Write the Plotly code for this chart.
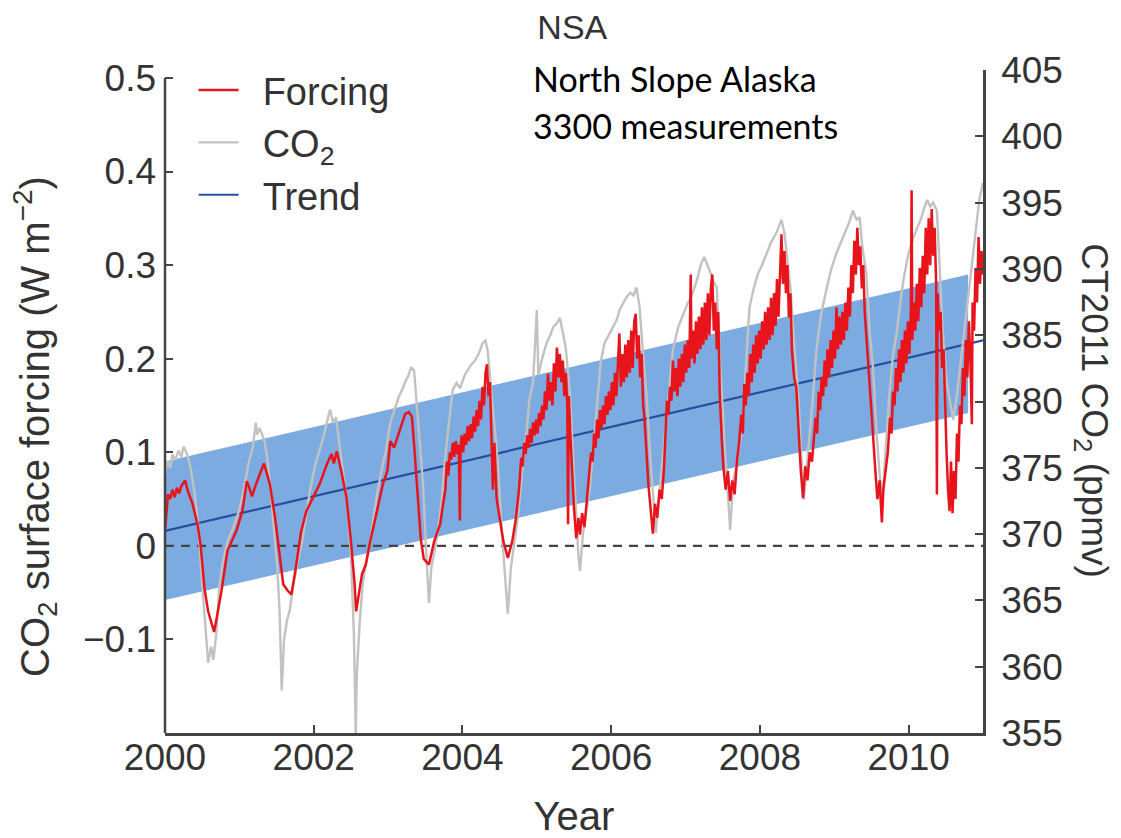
import plotly.graph_objects as go

# ---------------- data ----------------
X_RANGE = [2000, 2011]
LEFT_RANGE = [-0.2, 0.5085]
RIGHT_RANGE = [355, 405]
X_TICKS = [2000, 2002, 2004, 2006, 2008, 2010]
LEFT_TICKS = [-0.1, 0, 0.1, 0.2, 0.3, 0.4, 0.5]
LEFT_TICK_TEXT = ["\u22120.1", "0", "0.1", "0.2", "0.3", "0.4", "0.5"]
RIGHT_TICKS = [355, 360, 365, 370, 375, 380, 385, 390, 395, 400, 405]

TREND_YEAR = [2000, 2011]
TREND_VALUE = [0.016, 0.2196]
BAND_YEAR = [2000, 2010.8]
BAND_LOWER = [-0.058, 0.142]
BAND_UPPER = [0.090, 0.290]
ZERO_LEVEL = 0.0

# CO2 surface forcing (W m-2), (year, value) pairs
FORCING = [
    (2000.00, 0.016), (2000.02, 0.040), (2000.04, 0.055), (2000.07, 0.050), (2000.10, 0.060),
    (2000.13, 0.052), (2000.16, 0.062), (2000.19, 0.056), (2000.22, 0.064), (2000.27, 0.070),
    (2000.31, 0.058), (2000.37, 0.045), (2000.44, 0.022), (2000.48, 0.000), (2000.53, -0.045),
    (2000.58, -0.070), (2000.62, -0.080), (2000.66, -0.092), (2000.70, -0.075), (2000.76, -0.048),
    (2000.84, -0.005), (2000.96, 0.016), (2001.04, 0.037), (2001.10, 0.069), (2001.13, 0.063),
    (2001.17, 0.053), (2001.22, 0.065), (2001.27, 0.075), (2001.33, 0.088), (2001.36, 0.080),
    (2001.41, 0.066), (2001.48, 0.030), (2001.53, 0.000), (2001.59, -0.041), (2001.65, -0.048),
    (2001.70, -0.052), (2001.75, -0.028), (2001.83, 0.015), (2001.90, 0.037), (2001.99, 0.051),
    (2002.08, 0.066), (2002.18, 0.088), (2002.24, 0.098), (2002.27, 0.088), (2002.31, 0.101),
    (2002.37, 0.080), (2002.44, 0.052), (2002.50, 0.005), (2002.55, -0.041), (2002.57, -0.070),
    (2002.61, -0.048), (2002.65, -0.030), (2002.70, -0.020), (2002.76, 0.005), (2002.85, 0.037),
    (2002.93, 0.066), (2002.99, 0.080), (2003.03, 0.112), (2003.08, 0.105), (2003.12, 0.115),
    (2003.17, 0.128), (2003.23, 0.141), (2003.28, 0.143), (2003.32, 0.138), (2003.35, 0.108),
    (2003.39, 0.059), (2003.44, 0.007), (2003.48, -0.014), (2003.55, -0.020), (2003.62, 0.005),
    (2003.70, 0.023), (2003.74, 0.045), (2003.77, 0.060), (2003.79, 0.090), (2003.81, 0.075),
    (2003.83, 0.100), (2003.85, 0.092), (2003.87, 0.110), (2003.89, 0.095), (2003.91, 0.112),
    (2003.93, 0.098), (2003.95, 0.108), (2003.965, 0.027), (2003.975, 0.105), (2003.99, 0.118),
    (2004.01, 0.100), (2004.03, 0.120), (2004.05, 0.108), (2004.07, 0.128), (2004.09, 0.112),
    (2004.11, 0.130), (2004.13, 0.115), (2004.15, 0.138), (2004.17, 0.122), (2004.19, 0.145),
    (2004.21, 0.128), (2004.23, 0.155), (2004.25, 0.135), (2004.27, 0.170), (2004.29, 0.150),
    (2004.31, 0.185), (2004.33, 0.194), (2004.35, 0.160), (2004.37, 0.175), (2004.39, 0.120),
    (2004.41, 0.060), (2004.43, 0.110), (2004.46, 0.050), (2004.50, 0.030), (2004.55, 0.005),
    (2004.61, -0.013), (2004.67, 0.005), (2004.72, 0.030), (2004.76, 0.060), (2004.79, 0.094),
    (2004.81, 0.085), (2004.83, 0.110), (2004.85, 0.098), (2004.87, 0.118), (2004.89, 0.105),
    (2004.91, 0.125), (2004.93, 0.110), (2004.95, 0.132), (2004.97, 0.118), (2004.99, 0.135),
    (2005.01, 0.120), (2005.03, 0.142), (2005.05, 0.128), (2005.07, 0.150), (2005.09, 0.135),
    (2005.11, 0.165), (2005.13, 0.145), (2005.15, 0.184), (2005.17, 0.155), (2005.19, 0.175),
    (2005.21, 0.150), (2005.23, 0.195), (2005.25, 0.165), (2005.27, 0.212), (2005.29, 0.180),
    (2005.31, 0.205), (2005.33, 0.175), (2005.35, 0.198), (2005.37, 0.160), (2005.39, 0.185),
    (2005.41, 0.150), (2005.42, 0.023), (2005.43, 0.160), (2005.45, 0.120), (2005.47, 0.080),
    (2005.50, 0.040), (2005.53, 0.008), (2005.56, 0.030), (2005.58, 0.012), (2005.61, 0.035),
    (2005.64, 0.020), (2005.67, 0.050), (2005.70, 0.070), (2005.73, 0.100), (2005.75, 0.090),
    (2005.77, 0.120), (2005.79, 0.105), (2005.81, 0.135), (2005.83, 0.115), (2005.85, 0.145),
    (2005.87, 0.125), (2005.89, 0.150), (2005.91, 0.130), (2005.93, 0.160), (2005.95, 0.140),
    (2005.97, 0.165), (2005.99, 0.145), (2006.01, 0.175), (2006.03, 0.150), (2006.05, 0.185),
    (2006.07, 0.160), (2006.09, 0.195), (2006.11, 0.227), (2006.13, 0.170), (2006.15, 0.205),
    (2006.17, 0.175), (2006.19, 0.215), (2006.21, 0.180), (2006.23, 0.220), (2006.25, 0.185),
    (2006.27, 0.230), (2006.29, 0.190), (2006.31, 0.240), (2006.33, 0.248), (2006.35, 0.200),
    (2006.37, 0.225), (2006.39, 0.180), (2006.41, 0.205), (2006.43, 0.150), (2006.45, 0.134),
    (2006.48, 0.090), (2006.50, 0.066), (2006.53, 0.040), (2006.56, 0.013), (2006.59, 0.045),
    (2006.62, 0.030), (2006.65, 0.060), (2006.68, 0.050), (2006.71, 0.083), (2006.73, 0.120),
    (2006.75, 0.155), (2006.77, 0.140), (2006.79, 0.170), (2006.81, 0.155), (2006.83, 0.198),
    (2006.85, 0.165), (2006.87, 0.190), (2006.89, 0.160), (2006.91, 0.200), (2006.93, 0.170),
    (2006.95, 0.205), (2006.97, 0.175), (2006.99, 0.215), (2007.01, 0.185), (2007.03, 0.220),
    (2007.05, 0.190), (2007.07, 0.290), (2007.08, 0.200), (2007.10, 0.230), (2007.12, 0.195),
    (2007.14, 0.240), (2007.16, 0.205), (2007.18, 0.245), (2007.20, 0.210), (2007.22, 0.255),
    (2007.24, 0.215), (2007.26, 0.260), (2007.28, 0.220), (2007.30, 0.270), (2007.32, 0.225),
    (2007.34, 0.275), (2007.36, 0.290), (2007.38, 0.230), (2007.40, 0.260), (2007.42, 0.210),
    (2007.44, 0.250), (2007.46, 0.162), (2007.49, 0.110), (2007.51, 0.083), (2007.54, 0.060),
    (2007.57, 0.080), (2007.60, 0.048), (2007.63, 0.070), (2007.66, 0.055), (2007.69, 0.090),
    (2007.72, 0.110), (2007.75, 0.140), (2007.77, 0.120), (2007.79, 0.173), (2007.81, 0.150),
    (2007.83, 0.185), (2007.85, 0.160), (2007.87, 0.205), (2007.89, 0.175), (2007.91, 0.215),
    (2007.93, 0.185), (2007.95, 0.225), (2007.97, 0.195), (2007.99, 0.230), (2008.01, 0.200),
    (2008.03, 0.240), (2008.05, 0.210), (2008.07, 0.250), (2008.09, 0.215), (2008.11, 0.255),
    (2008.13, 0.220), (2008.15, 0.265), (2008.17, 0.225), (2008.19, 0.270), (2008.21, 0.235),
    (2008.23, 0.285), (2008.25, 0.245), (2008.27, 0.300), (2008.29, 0.333), (2008.31, 0.280),
    (2008.33, 0.315), (2008.35, 0.270), (2008.37, 0.300), (2008.39, 0.244), (2008.41, 0.270),
    (2008.43, 0.210), (2008.46, 0.180), (2008.49, 0.169), (2008.52, 0.120), (2008.55, 0.080),
    (2008.58, 0.051), (2008.61, 0.085), (2008.64, 0.070), (2008.67, 0.100), (2008.70, 0.090),
    (2008.73, 0.125), (2008.75, 0.137), (2008.77, 0.120), (2008.79, 0.165), (2008.81, 0.145),
    (2008.83, 0.180), (2008.85, 0.160), (2008.87, 0.198), (2008.89, 0.170), (2008.91, 0.210),
    (2008.93, 0.180), (2008.95, 0.220), (2008.97, 0.190), (2008.99, 0.230), (2009.01, 0.200),
    (2009.03, 0.255), (2009.05, 0.210), (2009.07, 0.245), (2009.09, 0.215), (2009.11, 0.250),
    (2009.13, 0.220), (2009.15, 0.260), (2009.17, 0.230), (2009.19, 0.276), (2009.21, 0.245),
    (2009.23, 0.300), (2009.25, 0.270), (2009.27, 0.326), (2009.29, 0.290), (2009.31, 0.340),
    (2009.33, 0.300), (2009.35, 0.320), (2009.37, 0.275), (2009.39, 0.300), (2009.41, 0.250),
    (2009.43, 0.227), (2009.46, 0.200), (2009.49, 0.155), (2009.52, 0.120), (2009.55, 0.083),
    (2009.58, 0.050), (2009.61, 0.070), (2009.64, 0.025), (2009.66, 0.060), (2009.69, 0.080),
    (2009.72, 0.100), (2009.75, 0.137), (2009.77, 0.120), (2009.79, 0.165), (2009.81, 0.150),
    (2009.83, 0.190), (2009.85, 0.165), (2009.87, 0.210), (2009.89, 0.175), (2009.91, 0.220),
    (2009.93, 0.185), (2009.95, 0.230), (2009.97, 0.195), (2009.99, 0.240), (2010.01, 0.205),
    (2010.03, 0.250), (2010.04, 0.380), (2010.05, 0.220), (2010.07, 0.260), (2010.09, 0.230),
    (2010.11, 0.280), (2010.13, 0.240), (2010.15, 0.297), (2010.17, 0.255), (2010.19, 0.310),
    (2010.21, 0.270), (2010.23, 0.340), (2010.25, 0.290), (2010.27, 0.350), (2010.29, 0.300),
    (2010.31, 0.360), (2010.33, 0.310), (2010.35, 0.340), (2010.37, 0.280), (2010.38, 0.055),
    (2010.39, 0.270), (2010.41, 0.230), (2010.43, 0.250), (2010.45, 0.190), (2010.47, 0.210),
    (2010.49, 0.140), (2010.51, 0.100), (2010.53, 0.060), (2010.55, 0.037), (2010.57, 0.090),
    (2010.59, 0.035), (2010.61, 0.080), (2010.63, 0.050), (2010.65, 0.120), (2010.67, 0.090),
    (2010.69, 0.150), (2010.71, 0.130), (2010.73, 0.190), (2010.75, 0.160), (2010.77, 0.220),
    (2010.79, 0.180), (2010.81, 0.240), (2010.83, 0.200), (2010.85, 0.130), (2010.86, 0.260),
    (2010.88, 0.230), (2010.90, 0.297), (2010.92, 0.260), (2010.94, 0.330), (2010.96, 0.280),
    (2010.98, 0.315), (2011.00, 0.290),
]
FORCING_YEAR = [p[0] for p in FORCING]
FORCING_VALUE = [p[1] for p in FORCING]

# CT2011 CO2 concentration (ppmv)
CO2_YEAR = [
    2000.00, 2000.03, 2000.07, 2000.10, 2000.14, 2000.18, 2000.22, 2000.25, 2000.30, 2000.35,
    2000.40, 2000.45, 2000.49, 2000.52, 2000.55, 2000.58, 2000.62, 2000.65, 2000.69, 2000.73,
    2000.78, 2000.85, 2000.92, 2000.98, 2001.04, 2001.08, 2001.13, 2001.18, 2001.22, 2001.24,
    2001.27, 2001.30, 2001.34, 2001.38, 2001.42, 2001.47, 2001.51, 2001.54, 2001.57, 2001.60,
    2001.64, 2001.68, 2001.72, 2001.78, 2001.84, 2001.90, 2001.95, 2002.02, 2002.08, 2002.13,
    2002.18, 2002.22, 2002.26, 2002.30, 2002.35, 2002.40, 2002.45, 2002.50, 2002.54, 2002.565,
    2002.58, 2002.62, 2002.66, 2002.71, 2002.76, 2002.81, 2002.86, 2002.92, 2002.97, 2003.03,
    2003.09, 2003.14, 2003.19, 2003.23, 2003.27, 2003.31, 2003.35, 2003.38, 2003.43, 2003.47,
    2003.51, 2003.55, 2003.58, 2003.62, 2003.67, 2003.72, 2003.76, 2003.82, 2003.87, 2003.92,
    2003.97, 2004.03, 2004.07, 2004.12, 2004.17, 2004.22, 2004.27, 2004.31, 2004.34, 2004.38,
    2004.43, 2004.48, 2004.53, 2004.58, 2004.61, 2004.65, 2004.70, 2004.75, 2004.80, 2004.85,
    2004.90, 2004.95, 2005.00, 2005.02, 2005.07, 2005.13, 2005.18, 2005.22, 2005.27, 2005.31,
    2005.35, 2005.39, 2005.44, 2005.48, 2005.52, 2005.56, 2005.58, 2005.62, 2005.66, 2005.71,
    2005.76, 2005.81, 2005.86, 2005.91, 2005.97, 2006.03, 2006.07, 2006.12, 2006.17, 2006.21,
    2006.26, 2006.30, 2006.34, 2006.38, 2006.43, 2006.48, 2006.53, 2006.57, 2006.60, 2006.64,
    2006.68, 2006.72, 2006.77, 2006.83, 2006.90, 2006.96, 2007.02, 2007.06, 2007.11, 2007.16,
    2007.21, 2007.25, 2007.29, 2007.33, 2007.37, 2007.42, 2007.46, 2007.49, 2007.53, 2007.57,
    2007.60, 2007.64, 2007.68, 2007.73, 2007.77, 2007.82, 2007.86, 2007.92, 2007.97, 2008.03,
    2008.09, 2008.15, 2008.22, 2008.26, 2008.29, 2008.33, 2008.37, 2008.41, 2008.46, 2008.52,
    2008.56, 2008.59, 2008.63, 2008.67, 2008.71, 2008.76, 2008.82, 2008.90, 2008.96, 2009.03,
    2009.09, 2009.15, 2009.20, 2009.25, 2009.30, 2009.34, 2009.38, 2009.43, 2009.48, 2009.52,
    2009.57, 2009.61, 2009.65, 2009.69, 2009.74, 2009.79, 2009.84, 2009.90, 2009.94, 2010.00,
    2010.06, 2010.11, 2010.16, 2010.21, 2010.25, 2010.29, 2010.33, 2010.38, 2010.42, 2010.46,
    2010.51, 2010.55, 2010.60, 2010.65, 2010.70, 2010.74, 2010.80, 2010.85, 2010.90, 2010.95,
    2011.00,
]
CO2_PPMV = [
    374.5, 375.5, 375.0, 376.0, 375.6, 376.3, 375.8, 376.6, 376.0, 374.8,
    373.0, 370.5, 367.0, 364.5, 362.5, 360.3, 361.5, 360.5, 362.5, 366.0,
    368.0, 369.6, 370.5, 371.5, 372.8, 374.0, 375.5, 376.5, 378.4, 377.5,
    378.0, 377.6, 377.0, 375.5, 373.5, 370.0, 367.5, 364.3, 358.2, 362.0,
    363.5, 364.3, 366.0, 367.8, 369.3, 371.5, 373.3, 375.2, 376.3, 377.3,
    378.5, 379.4, 378.4, 378.8, 376.6, 374.5, 372.3, 368.4, 362.5, 355.0,
    359.5, 363.5, 366.3, 368.0, 369.3, 371.5, 373.3, 375.0, 376.3, 378.4,
    379.5, 380.3, 380.9, 381.5, 381.9, 382.6, 382.3, 380.1, 376.5, 373.8,
    368.8, 364.8, 367.4, 368.5, 370.1, 372.5, 375.3, 378.5, 380.9, 381.4,
    381.0, 382.0, 382.4, 382.8, 383.1, 383.6, 384.4, 384.6, 383.8, 381.4,
    378.0, 375.1, 370.1, 366.3, 364.0, 367.4, 369.5, 371.5, 374.5, 377.0,
    380.1, 381.5, 386.9, 382.0, 383.2, 384.4, 385.0, 385.6, 385.9, 386.3,
    385.2, 384.0, 381.0, 376.5, 372.0, 368.3, 367.2, 370.0, 371.5, 373.3,
    376.5, 379.5, 383.0, 384.4, 385.0, 385.6, 386.1, 387.0, 387.5, 387.9,
    388.2, 388.0, 388.6, 387.2, 383.5, 380.1, 375.5, 372.0, 370.1, 372.6,
    375.0, 377.6, 380.5, 383.9, 385.6, 386.5, 387.3, 387.7, 388.4, 389.3,
    390.4, 390.9, 390.4, 389.8, 389.1, 388.6, 383.5, 380.1, 376.3, 373.0,
    370.3, 374.0, 375.1, 376.8, 378.6, 383.5, 387.1, 388.6, 389.6, 390.3,
    391.2, 392.0, 392.7, 393.2, 393.7, 392.7, 390.5, 388.6, 384.5, 380.1,
    375.5, 372.6, 375.1, 377.5, 380.1, 383.9, 386.5, 388.6, 390.0, 391.2,
    392.0, 392.7, 393.5, 394.4, 393.7, 393.9, 391.5, 389.7, 385.0, 382.6,
    377.5, 374.5, 372.6, 376.3, 380.5, 383.5, 385.2, 388.0, 389.5, 391.2,
    392.3, 393.0, 393.7, 394.6, 395.2, 394.7, 395.0, 394.4, 390.0, 385.2,
    381.5, 380.1, 378.6, 380.5, 383.0, 385.2, 388.0, 390.2, 393.0, 395.2,
    396.5,
]

# ---------------- styling ----------------
FONT = "Liberation Sans, Arial, Helvetica, sans-serif"
TXT = "#333333"
AX = "#444444"
RED = "#e8141c"
GRAY = "#c2c2c2"
BLUE = "#2a4c9c"
BAND = "#7cabe2"
GAP = "\u2002"  # small gap between legend sample line and label

fig = go.Figure()

# uncertainty band of the trend
fig.add_trace(go.Scatter(x=BAND_YEAR, y=BAND_LOWER, mode="lines", line=dict(width=0),
                         showlegend=False, hoverinfo="skip", yaxis="y"))
fig.add_trace(go.Scatter(x=BAND_YEAR, y=BAND_UPPER, mode="lines", line=dict(width=0),
                         fill="tonexty", fillcolor=BAND, showlegend=False,
                         hoverinfo="skip", yaxis="y"))
# zero reference line
fig.add_trace(go.Scatter(x=X_RANGE, y=[ZERO_LEVEL, ZERO_LEVEL], mode="lines",
                         line=dict(color=AX, width=2.2, dash="9px,7px"),
                         showlegend=False, hoverinfo="skip", yaxis="y"))
# trend
fig.add_trace(go.Scatter(x=TREND_YEAR, y=TREND_VALUE, mode="lines", name=GAP + "Trend",
                         line=dict(color=BLUE, width=2.2), legendrank=3, yaxis="y"))
# CO2 concentration (right axis)
fig.add_trace(go.Scatter(x=CO2_YEAR, y=CO2_PPMV, mode="lines", name=GAP + "CO<sub>2</sub>",
                         line=dict(color=GRAY, width=2.4), legendrank=2, yaxis="y2"))
# surface forcing (left-axis units, drawn on top through an invisible twin axis)
fig.add_trace(go.Scatter(x=FORCING_YEAR, y=FORCING_VALUE, mode="lines", name=GAP + "Forcing",
                         line=dict(color=RED, width=2.5), legendrank=1, yaxis="y3"))

tickfont = dict(family=FONT, size=37, color=TXT)

# the page body adds an 8 px offset, so the figure is 8 px smaller than the window
fig.update_layout(
    width=1113, height=830,
    margin=dict(l=157, r=138, t=62, b=105, autoexpand=False),
    paper_bgcolor="white", plot_bgcolor="white",
    font=dict(family=FONT, size=37, color=TXT),
    title=dict(text="NSA", x=0.507, xanchor="center", y=0.977, yanchor="middle",
               font=dict(family=FONT, size=34, color=TXT)),
    xaxis=dict(range=X_RANGE, tickvals=X_TICKS, ticks="inside", ticklen=8, tickwidth=2,
               tickcolor=AX, showline=True, linecolor=AX, linewidth=2.5, automargin=False,
               showgrid=False, zeroline=False, tickfont=tickfont, ticklabelstandoff=-10,
               title=dict(text="Year", font=dict(family=FONT, size=40, color=TXT), standoff=34)),
    yaxis=dict(range=LEFT_RANGE, tickvals=LEFT_TICKS, ticktext=LEFT_TICK_TEXT,
               ticks="inside", ticklen=8, tickwidth=2, tickcolor=AX, showline=False,
               automargin=False, showgrid=False, zeroline=False, tickfont=tickfont,
               ticklabelstandoff=8),
    yaxis2=dict(range=RIGHT_RANGE, tickvals=RIGHT_TICKS, overlaying="y", side="right",
                ticks="inside", ticklen=8, tickwidth=2, tickcolor=AX, showline=True,
                linecolor=AX, linewidth=2.5, showgrid=False, zeroline=False,
                automargin=False, tickfont=tickfont, ticklabelstandoff=8),
    yaxis3=dict(range=LEFT_RANGE, overlaying="y", visible=False, automargin=False),
    legend=dict(x=0.035, y=1.017, xanchor="left", yanchor="top", bgcolor="rgba(0,0,0,0)",
                font=dict(family=FONT, size=38, color=TXT), itemwidth=40,
                traceorder="normal"),
    showlegend=True,
)

# left axis line spans only the labelled range (-0.2 .. 0.5)
fig.add_shape(type="line", xref="paper", yref="y", x0=0, x1=0,
              y0=LEFT_RANGE[0], y1=LEFT_TICKS[-1], line=dict(color=AX, width=2.5))

# left axis title
fig.add_annotation(text="CO<sub>2</sub> surface forcing (W m<sup>\u22122</sup>)",
                   xref="paper", yref="paper", x=-0.159, y=0.463, textangle=-90,
                   xanchor="center", yanchor="middle",
                   showarrow=False, font=dict(family=FONT, size=40, color=TXT))
# right axis title (reads top to bottom)
fig.add_annotation(text="CT2011 CO<sub>2</sub> (ppmv)", xref="paper", yref="paper",
                   x=1.133, y=0.487, textangle=90, xanchor="center", yanchor="middle",
                   showarrow=False, font=dict(family=FONT, size=37, color=TXT))
# site annotation
fig.add_annotation(text="North Slope Alaska", xref="paper", yref="paper",
                   x=0.448, y=0.987, xanchor="left", yanchor="middle", showarrow=False,
                   font=dict(family="Lato, Open Sans, sans-serif", size=34, color="black"))
fig.add_annotation(text="3300 measurements", xref="paper", yref="paper",
                   x=0.448, y=0.916, xanchor="left", yanchor="middle", showarrow=False,
                   font=dict(family="Lato, Open Sans, sans-serif", size=34, color="black"))

fig.write_html("out.html")
